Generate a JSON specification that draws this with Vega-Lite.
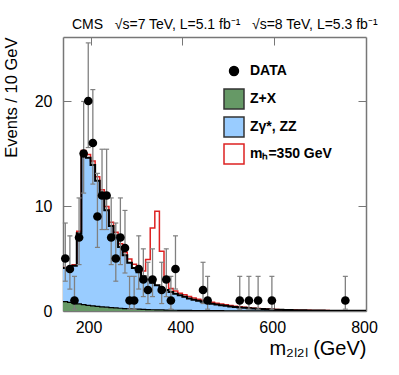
{
  "$schema": "https://vega.github.io/schema/vega-lite/v6.json",
  "width": 303,
  "height": 274,
  "autosize": {"type": "none"},
  "padding": {"left": 63, "top": 37, "right": 33, "bottom": 64},
  "background": "white",
  "config": {
    "view": {"stroke": null},
    "font": "Liberation Sans",
    "axis": {"grid": false, "domainColor": "#777777", "tickColor": "#777777", "labelColor": "black", "titleColor": "black", "labelFont": "Liberation Sans", "titleFont": "Liberation Sans", "titleFontWeight": "normal"}
  },
  "title": {"text": "CMS\u00a0\u00a0 √s=7 TeV, L=5.1 fb⁻¹\u00a0\u00a0 √s=8 TeV, L=5.3 fb⁻¹", "anchor": "start", "frame": "group", "fontSize": 14, "fontWeight": "normal", "font": "Liberation Sans", "offset": -6, "dx": 9, "baseline": "alphabetic", "color": "black"},
  "datasets": {
    "hist": [
      {"lo": 140, "bg": 4.1, "zx": 0.9, "tot": 4.15},
      {"lo": 150, "bg": 4.0, "zx": 0.82, "tot": 4.05},
      {"lo": 160, "bg": 4.3, "zx": 0.74, "tot": 4.4},
      {"lo": 170, "bg": 7.4, "zx": 0.67, "tot": 7.6},
      {"lo": 180, "bg": 15.0, "zx": 0.6, "tot": 15.3},
      {"lo": 190, "bg": 14.6, "zx": 0.54, "tot": 14.9},
      {"lo": 200, "bg": 13.9, "zx": 0.49, "tot": 14.3},
      {"lo": 210, "bg": 12.4, "zx": 0.44, "tot": 12.8},
      {"lo": 220, "bg": 11.2, "zx": 0.4, "tot": 11.55},
      {"lo": 230, "bg": 9.6, "zx": 0.36, "tot": 9.95},
      {"lo": 240, "bg": 8.1, "zx": 0.32, "tot": 8.45},
      {"lo": 250, "bg": 7.2, "zx": 0.29, "tot": 7.5},
      {"lo": 260, "bg": 6.1, "zx": 0.26, "tot": 6.4},
      {"lo": 270, "bg": 5.3, "zx": 0.23, "tot": 5.6},
      {"lo": 280, "bg": 4.6, "zx": 0.21, "tot": 4.95},
      {"lo": 290, "bg": 4.1, "zx": 0.19, "tot": 4.45},
      {"lo": 300, "bg": 3.7, "zx": 0.17, "tot": 4.1},
      {"lo": 310, "bg": 3.3, "zx": 0.15, "tot": 3.8},
      {"lo": 320, "bg": 3.0, "zx": 0.14, "tot": 4.9},
      {"lo": 330, "bg": 2.7, "zx": 0.12, "tot": 7.9},
      {"lo": 340, "bg": 2.45, "zx": 0.11, "tot": 9.5},
      {"lo": 350, "bg": 2.2, "zx": 0.1, "tot": 5.7},
      {"lo": 360, "bg": 2.0, "zx": 0.09, "tot": 3.1},
      {"lo": 370, "bg": 1.8, "zx": 0.08, "tot": 2.15},
      {"lo": 380, "bg": 1.65, "zx": 0.07, "tot": 1.9},
      {"lo": 390, "bg": 1.5, "zx": 0.065, "tot": 1.7},
      {"lo": 400, "bg": 1.35, "zx": 0.06, "tot": 1.55},
      {"lo": 410, "bg": 1.2, "zx": 0.055, "tot": 1.38},
      {"lo": 420, "bg": 1.08, "zx": 0.05, "tot": 1.25},
      {"lo": 430, "bg": 0.97, "zx": 0.045, "tot": 1.13},
      {"lo": 440, "bg": 0.87, "zx": 0.04, "tot": 1.02},
      {"lo": 450, "bg": 0.78, "zx": 0.037, "tot": 0.92},
      {"lo": 460, "bg": 0.7, "zx": 0.034, "tot": 0.83},
      {"lo": 470, "bg": 0.62, "zx": 0.031, "tot": 0.74},
      {"lo": 480, "bg": 0.55, "zx": 0.028, "tot": 0.66},
      {"lo": 490, "bg": 0.49, "zx": 0.026, "tot": 0.59},
      {"lo": 500, "bg": 0.43, "zx": 0.024, "tot": 0.52},
      {"lo": 510, "bg": 0.38, "zx": 0.022, "tot": 0.46},
      {"lo": 520, "bg": 0.34, "zx": 0.02, "tot": 0.41},
      {"lo": 530, "bg": 0.3, "zx": 0.018, "tot": 0.36},
      {"lo": 540, "bg": 0.26, "zx": 0.016, "tot": 0.31},
      {"lo": 550, "bg": 0.23, "zx": 0.015, "tot": 0.27},
      {"lo": 560, "bg": 0.2, "zx": 0.014, "tot": 0.235},
      {"lo": 570, "bg": 0.18, "zx": 0.013, "tot": 0.21},
      {"lo": 580, "bg": 0.16, "zx": 0.012, "tot": 0.185},
      {"lo": 590, "bg": 0.14, "zx": 0.011, "tot": 0.16},
      {"lo": 600, "bg": 0.12, "zx": 0.01, "tot": 0.14},
      {"lo": 610, "bg": 0.11, "zx": 0.009, "tot": 0.125},
      {"lo": 620, "bg": 0.1, "zx": 0.008, "tot": 0.113},
      {"lo": 630, "bg": 0.09, "zx": 0.008, "tot": 0.1},
      {"lo": 640, "bg": 0.08, "zx": 0.007, "tot": 0.09},
      {"lo": 650, "bg": 0.07, "zx": 0.007, "tot": 0.08},
      {"lo": 660, "bg": 0.06, "zx": 0.006, "tot": 0.068},
      {"lo": 670, "bg": 0.055, "zx": 0.006, "tot": 0.062},
      {"lo": 680, "bg": 0.05, "zx": 0.005, "tot": 0.056},
      {"lo": 690, "bg": 0.045, "zx": 0.005, "tot": 0.05},
      {"lo": 700, "bg": 0.04, "zx": 0.004, "tot": 0.045},
      {"lo": 710, "bg": 0.035, "zx": 0.004, "tot": 0.04},
      {"lo": 720, "bg": 0.03, "zx": 0.004, "tot": 0.034},
      {"lo": 730, "bg": 0.028, "zx": 0.003, "tot": 0.031},
      {"lo": 740, "bg": 0.025, "zx": 0.003, "tot": 0.028},
      {"lo": 750, "bg": 0.022, "zx": 0.003, "tot": 0.025},
      {"lo": 760, "bg": 0.02, "zx": 0.003, "tot": 0.022},
      {"lo": 770, "bg": 0.018, "zx": 0.002, "tot": 0.02},
      {"lo": 780, "bg": 0.016, "zx": 0.002, "tot": 0.018},
      {"lo": 790, "bg": 0.015, "zx": 0.002, "tot": 0.016},
      {"lo": 800, "bg": 0.015, "zx": 0.002, "tot": 0.016}
    ],
    "pts": [
      {"m": 145, "n": 5, "lo": 2.84, "hi": 8.38},
      {"m": 155, "n": 4, "lo": 2.09, "hi": 7.16},
      {"m": 165, "n": 1, "lo": 0.17, "hi": 3.3},
      {"m": 175, "n": 7, "lo": 4.42, "hi": 10.77},
      {"m": 185, "n": 15, "lo": 11.23, "hi": 19.96},
      {"m": 195, "n": 20, "lo": 15.57, "hi": 25.54},
      {"m": 205, "n": 16, "lo": 12.09, "hi": 21.09},
      {"m": 215, "n": 9, "lo": 6.06, "hi": 13.11},
      {"m": 225, "n": 11, "lo": 7.76, "hi": 15.41},
      {"m": 235, "n": 11, "lo": 7.76, "hi": 15.41},
      {"m": 245, "n": 7, "lo": 4.42, "hi": 10.77},
      {"m": 255, "n": 5, "lo": 2.84, "hi": 8.38},
      {"m": 265, "n": 7, "lo": 4.42, "hi": 10.77},
      {"m": 275, "n": 6, "lo": 3.62, "hi": 9.58},
      {"m": 285, "n": 1, "lo": 0.17, "hi": 3.3},
      {"m": 295, "n": 1, "lo": 0.17, "hi": 3.3},
      {"m": 305, "n": 4, "lo": 2.09, "hi": 7.16},
      {"m": 315, "n": 3, "lo": 1.37, "hi": 5.92},
      {"m": 325, "n": 2, "lo": 0.71, "hi": 4.64},
      {"m": 335, "n": 3, "lo": 1.37, "hi": 5.92},
      {"m": 355, "n": 2, "lo": 0.71, "hi": 4.64},
      {"m": 365, "n": 3, "lo": 1.37, "hi": 5.92},
      {"m": 375, "n": 1, "lo": 0.17, "hi": 3.3},
      {"m": 385, "n": 4, "lo": 2.09, "hi": 7.16},
      {"m": 445, "n": 2, "lo": 0.71, "hi": 4.64},
      {"m": 455, "n": 1, "lo": 0.17, "hi": 3.3},
      {"m": 525, "n": 1, "lo": 0.17, "hi": 3.3},
      {"m": 545, "n": 1, "lo": 0.17, "hi": 3.3},
      {"m": 565, "n": 1, "lo": 0.17, "hi": 3.3},
      {"m": 595, "n": 1, "lo": 0.17, "hi": 3.3},
      {"m": 755, "n": 1, "lo": 0.17, "hi": 3.3}
    ]
  },
  "layer": [
    {
      "data": {"name": "hist"},
      "layer": [
        {
          "mark": {"type": "area", "interpolate": "step-after", "clip": true},
          "encoding": {
            "x": {"field": "lo", "type": "quantitative", "scale": {"domain": [140, 800], "nice": false, "zero": false},
              "axis": {"orient": "bottom", "values": [200, 400, 600, 800], "tickSize": -8, "labelPadding": 16, "labelOffset": -2, "labelFontSize": 16, "labelFlush": false, "title": "m₂ₗ₂ₗ (GeV)", "titleFontSize": 20, "titleAnchor": "end", "titlePadding": 3, "domainWidth": 1.5}},
            "y": {"field": "bg", "type": "quantitative", "stack": null, "scale": {"domain": [0, 26.1], "nice": false},
              "axis": {"orient": "left", "values": [0, 10, 20], "tickSize": -8, "labelPadding": 19, "labelFontSize": 16, "title": "Events / 10 GeV", "titleFontSize": 16.5, "titleAnchor": "end", "titlePadding": 15, "domainWidth": 1.5}},
            "fill": {"datum": "Zγ*, ZZ",
              "scale": {"domain": ["DATA", "Z+X", "Zγ*, ZZ"], "range": ["black", "#669966", "#99ccff"]},
              "legend": {"orient": "none", "legendX": 160, "legendY": 23, "title": null, "padding": 0,
                "labelFontSize": 14, "labelFontWeight": "bold", "labelFont": "Liberation Sans", "labelColor": "black",
                "symbolType": "square", "symbolSize": 400, "rowPadding": 6, "clipHeight": 22, "labelOffset": 5,
                "symbolStrokeColor": "#333333", "symbolStrokeWidth": 1.5, "symbolOpacity": 1,
                "encode": {"symbols": {"update": {
                  "shape": {"signal": "datum.value === 'DATA' ? 'circle' : 'square'"},
                  "size": {"signal": "datum.value === 'DATA' ? 80 : 400"},
                  "stroke": {"signal": "datum.value === 'DATA' ? 'black' : '#333333'"},
                  "strokeWidth": {"value": 1.5}
                }}}
              }}
          }
        },
        {
          "mark": {"type": "area", "interpolate": "step-after", "clip": true},
          "encoding": {
            "x": {"field": "lo", "type": "quantitative"},
            "y": {"field": "zx", "type": "quantitative", "stack": null},
            "fill": {"datum": "Z+X"}
          }
        },
        {
          "mark": {"type": "line", "interpolate": "step-after", "clip": true, "strokeWidth": 1.5},
          "encoding": {
            "x": {"field": "lo", "type": "quantitative"},
            "y": {"field": "tot", "type": "quantitative"},
            "stroke": {"datum": "mₕ=350 GeV",
              "scale": {"domain": ["mₕ=350 GeV"], "range": ["#dd2222"]},
              "legend": {"orient": "none", "legendX": 160, "legendY": 106, "title": null, "padding": 0,
                "labelFontSize": 14, "labelFontWeight": "bold", "labelFont": "Liberation Sans", "labelColor": "black",
                "symbolType": "square", "symbolSize": 400, "clipHeight": 22, "labelOffset": 5,
                "symbolFillColor": "white", "symbolStrokeWidth": 1.5, "symbolOpacity": 1,
                "encode": {"symbols": {"update": {
                  "shape": {"value": "square"},
                  "fill": {"value": "white"},
                  "stroke": {"value": "#dd3333"},
                  "strokeWidth": {"value": 1.5}
                }}}
              }}
          }
        },
        {
          "mark": {"type": "line", "interpolate": "step-after", "clip": true, "strokeWidth": 1.2, "color": "black"},
          "encoding": {
            "x": {"field": "lo", "type": "quantitative"},
            "y": {"field": "zx", "type": "quantitative"}
          }
        }
      ]
    },
    {
      "data": {"name": "hist"},
      "mark": {"type": "line", "interpolate": "step-after", "clip": true, "strokeWidth": 2, "color": "black"},
      "encoding": {
        "x": {"field": "lo", "type": "quantitative", "scale": {"domain": [140, 800], "nice": false, "zero": false},
          "axis": {"orient": "top", "values": [200, 400, 600], "tickSize": -8, "labels": false, "title": null, "domainWidth": 1.5}},
        "y": {"field": "bg", "type": "quantitative", "scale": {"domain": [0, 26.1], "nice": false},
          "axis": {"orient": "right", "values": [10, 20], "tickSize": -8, "labels": false, "title": null, "domainWidth": 1.5}}
      }
    },
    {
      "data": {"name": "pts"},
      "layer": [
        {
          "mark": {"type": "rule", "color": "#808080", "strokeWidth": 1.3},
          "encoding": {
            "x": {"field": "m", "type": "quantitative", "axis": null},
            "y": {"field": "lo", "type": "quantitative", "axis": null},
            "y2": {"field": "hi"}
          }
        },
        {
          "mark": {"type": "tick", "orient": "horizontal", "color": "#808080", "thickness": 1.2, "opacity": 1},
          "encoding": {
            "x": {"field": "m", "type": "quantitative", "axis": null},
            "y": {"field": "lo", "type": "quantitative", "axis": null},
            "size": {"value": 5}
          }
        },
        {
          "mark": {"type": "tick", "orient": "horizontal", "color": "#808080", "thickness": 1.2, "opacity": 1},
          "encoding": {
            "x": {"field": "m", "type": "quantitative", "axis": null},
            "y": {"field": "hi", "type": "quantitative", "axis": null},
            "size": {"value": 5}
          }
        },
        {
          "mark": {"type": "point", "filled": true, "opacity": 1, "size": 75},
          "encoding": {
            "x": {"field": "m", "type": "quantitative", "axis": null},
            "y": {"field": "n", "type": "quantitative", "axis": null},
            "fill": {"datum": "DATA"}
          }
        }
      ]
    }
  ],
  "resolve": {"axis": {"x": "independent", "y": "independent"}}
}
